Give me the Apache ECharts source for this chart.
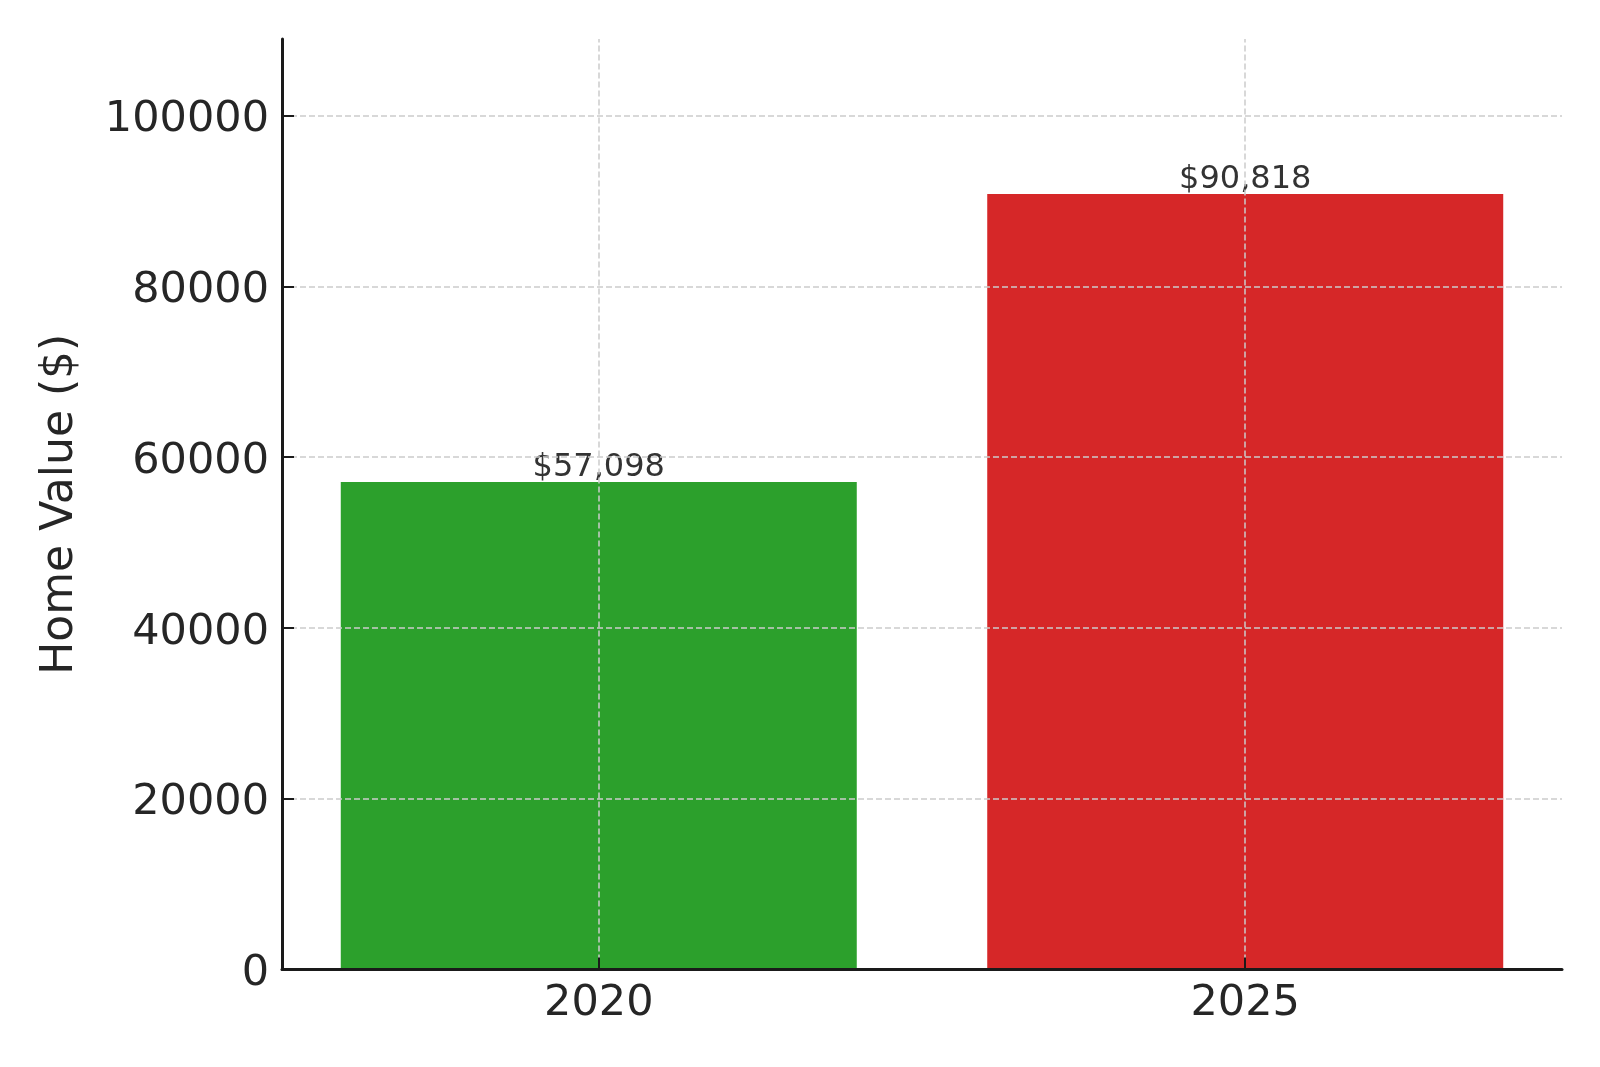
<!DOCTYPE html>
<html>
<head>
<meta charset="utf-8">
<script src="https://cdn.jsdelivr.net/npm/echarts@6/dist/echarts.min.js"></script>
<style>
html,body{margin:0;padding:0;background:#fff;}
#chart{width:1600px;height:1067px;}
</style>
</head>
<body>
<div id="chart"></div>
<script>
// Data
const categories = ['2020', '2025'];
const homeValues = [57098, 90818];
const yTicks = [0, 20000, 40000, 60000, 80000, 100000];
const yGridValues = [20000, 40000, 60000, 80000, 100000];
const yMax = 108981.6; // 1.2 x largest value, as in the source chart
const barColors = ['#2ca02c', '#d62728'];

const FONT = 'DejaVu Sans';
const gridLine = { color: '#cbcbcb', width: 1.5, type: [6, 3] };
const catIdx = categories.map((c, i) => i);

const chart = echarts.init(document.getElementById('chart'), null, { renderer: 'canvas' });

const markData = [];
yGridValues.forEach(v => markData.push({ yAxis: v }));
catIdx.forEach(i => markData.push({ xAxis: i }));

chart.setOption({
  animation: false,
  backgroundColor: '#ffffff',
  grid: { left: 282, right: 38, top: 39, bottom: 97.5, containLabel: false },
  xAxis: {
    type: 'value',
    z: 10,
    min: -0.49,
    max: 1.49,
    axisLine: { show: true, onZero: false, lineStyle: { color: '#1a1a1a', width: 3 } },
    axisTick: { show: true, inside: true, length: 12, customValues: catIdx, lineStyle: { color: '#1a1a1a', width: 2 } },
    axisLabel: {
      fontFamily: FONT, fontSize: 43, color: '#262626', margin: 13,
      customValues: catIdx,
      formatter: v => categories[Math.round(v)]
    },
    splitLine: { show: false }
  },
  yAxis: {
    type: 'value',
    z: 10,
    min: 0,
    max: yMax,
    interval: 20000,
    name: 'Home Value ($)',
    nameLocation: 'middle',
    nameGap: 199,
    nameMoveOverlap: false,
    nameTextStyle: { fontFamily: FONT, fontSize: 44, color: '#262626' },
    axisLine: { show: true, onZero: false, lineStyle: { color: '#1a1a1a', width: 3 } },
    axisTick: { show: true, inside: true, length: 12, customValues: yTicks, lineStyle: { color: '#1a1a1a', width: 2 } },
    axisLabel: {
      fontFamily: FONT, fontSize: 43, color: '#262626', margin: 13,
      verticalAlign: 'top',
      lineHeight: 9,
      customValues: yTicks,
      formatter: v => String(v)
    },
    splitLine: { show: false }
  },
  series: [{
    type: 'bar',
    data: homeValues.map((v, i) => ({ value: [catIdx[i], v], itemStyle: { color: barColors[i] } })),
    barWidth: 516,
    label: {
      show: true,
      position: 'top',
      distance: -2,
      fontFamily: FONT,
      fontSize: 32,
      color: '#333333',
      formatter: p => '$' + p.value[1].toLocaleString('en-US')
    },
    markLine: {
      silent: true,
      symbol: ['none', 'none'],
      label: { show: false },
      lineStyle: gridLine,
      emphasis: { disabled: true },
      data: markData
    }
  }]
});
</script>
</body>
</html>
